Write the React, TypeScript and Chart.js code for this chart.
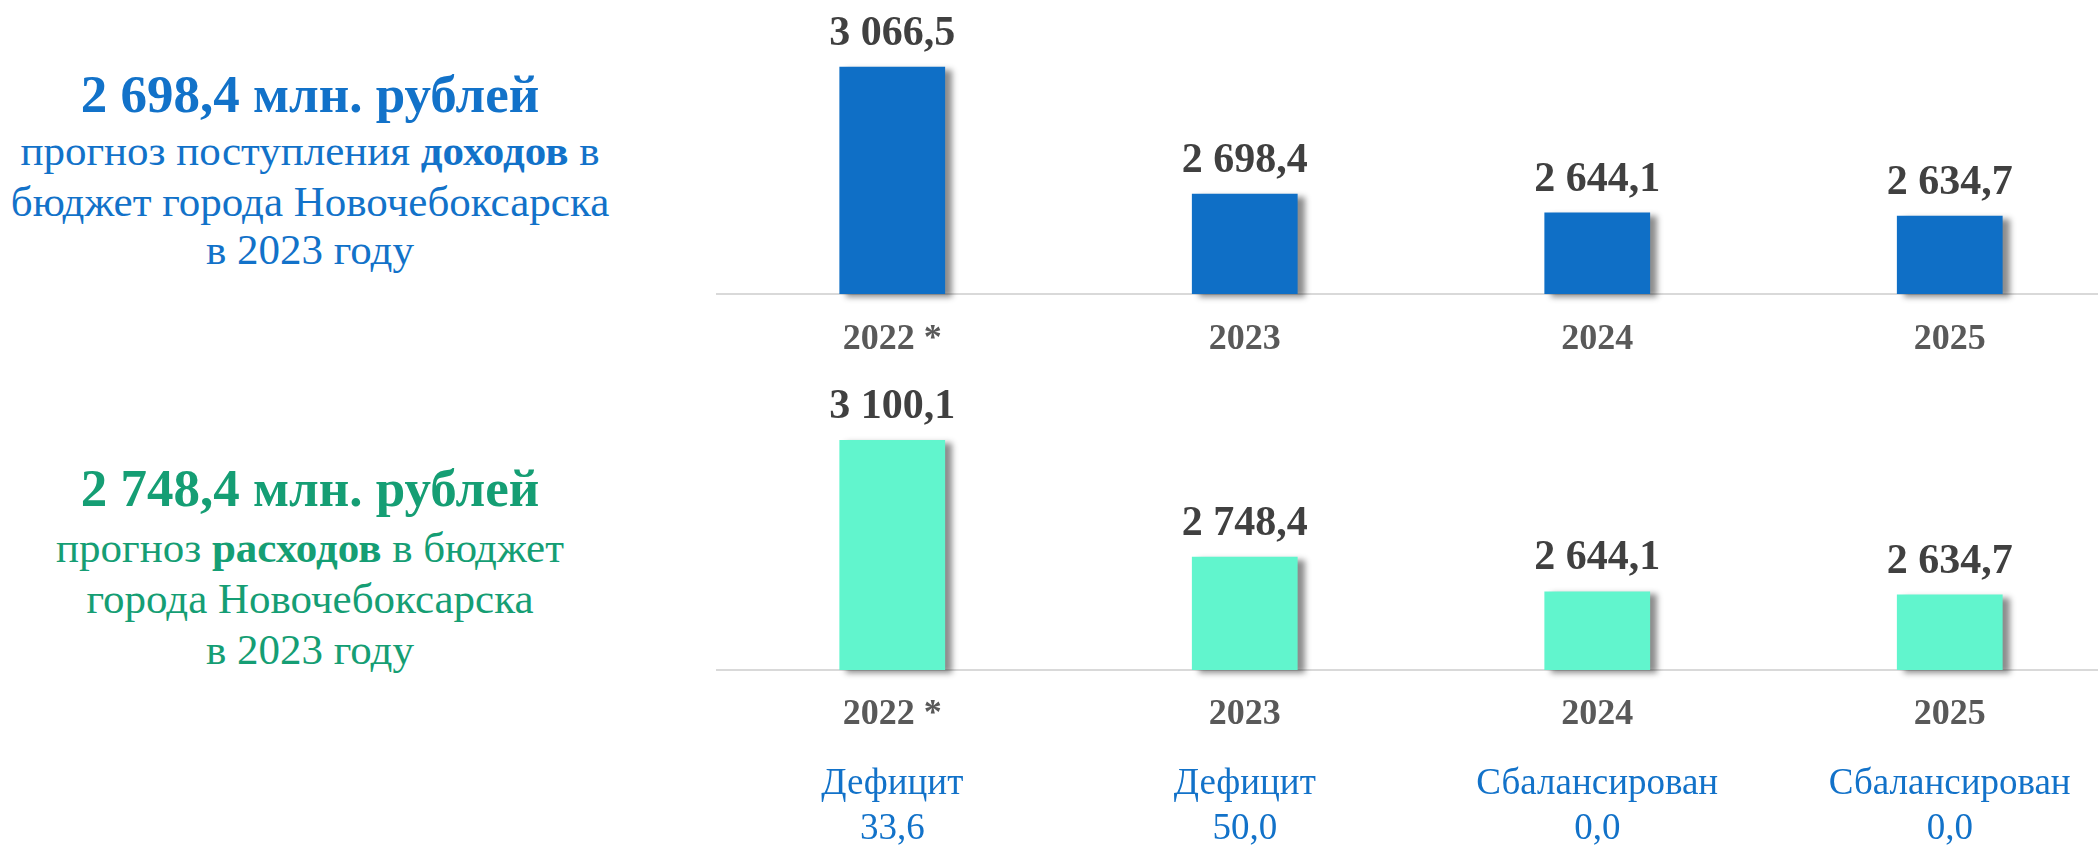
import React, { useEffect, useRef } from 'react';
import { Chart, registerables } from 'chart.js';

Chart.register(...registerables);

const categories = ['2022 *', '2023', '2024', '2025'];
const revenueValues = [3066.5, 2698.4, 2644.1, 2634.7];
const expenseValues = [3100.1, 2748.4, 2644.1, 2634.7];
const balanceStatus = ['Дефицит', 'Дефицит', 'Сбалансирован', 'Сбалансирован'];
const balanceValues = ['33,6', '50,0', '0,0', '0,0'];
const axisMin = 2408;
const axisMax = 3202;

const FONT = '"Liberation Serif", "Times New Roman", serif';
const BLUE_TEXT = '#1272C9';
const GREEN_TEXT = '#159E74';

function fmt(v: number): string {
  const [i, d] = v.toFixed(1).split('.');
  return i.replace(/\B(?=(\d{3})+(?!\d))/g, ' ') + ',' + d;
}

type BarProps = {
  values: number[];
  color: string;
  top: number;
  height: number;
  padTop: number;
  xAxisHeight: number;
  labelPad: number;
  withBalance: boolean;
};

function BarChart({ values, color, top, height, padTop, xAxisHeight, labelPad, withBalance }: BarProps) {
  const ref = useRef<HTMLCanvasElement | null>(null);
  useEffect(() => {
    if (!ref.current) return;
    const shadowPlugin = {
      id: 'barShadow',
      beforeDatasetsDraw(chart: any) {
        const c = chart.ctx;
        c.save();
        c.shadowColor = 'rgba(0,0,0,0.45)';
        c.shadowBlur = 6;
        c.shadowOffsetX = 7;
        c.shadowOffsetY = 3;
      },
      afterDatasetsDraw(chart: any) {
        chart.ctx.restore();
      },
    };
    const labelPlugin = {
      id: 'valueLabels',
      afterDatasetsDraw(chart: any) {
        const ctx = chart.ctx;
        const meta = chart.getDatasetMeta(0);
        ctx.save();
        ctx.font = `bold 42px ${FONT}`;
        ctx.fillStyle = '#404040';
        ctx.textAlign = 'center';
        ctx.textBaseline = 'alphabetic';
        meta.data.forEach((bar: any, i: number) => {
          ctx.fillText(fmt(values[i]), bar.x, bar.y - 22);
        });
        ctx.restore();
      },
    };
    const scales: any = {
      x: {
        type: 'category',
        position: 'bottom',
        weight: 0,
        offset: true,
        grid: { display: false, drawTicks: false },
        border: { display: true, color: '#D9D9D9', width: 2 },
        ticks: {
          color: '#595959',
          font: { family: FONT, size: 36, weight: 'bold', lineHeight: 1.2 },
          padding: labelPad,
          maxRotation: 0,
          autoSkip: false,
        },
        afterFit: (s: any) => {
          s.height = xAxisHeight;
        },
      },
      y: { display: false, min: axisMin, max: axisMax },
    };
    if (withBalance) {
      scales.x2 = {
        type: 'category',
        position: 'bottom',
        weight: 1,
        offset: true,
        labels: balanceStatus.map((s, i) => [s, balanceValues[i]]),
        grid: { display: false, drawTicks: false },
        border: { display: false },
        ticks: {
          color: BLUE_TEXT,
          font: { family: FONT, size: 37, lineHeight: 45 / 37 },
          padding: 32,
          maxRotation: 0,
          autoSkip: false,
        },
        afterFit: (s: any) => {
          s.height = 116;
        },
      };
    }
    const chart = new Chart(ref.current, {
      type: 'bar',
      data: {
        labels: categories,
        datasets: [
          {
            data: values,
            base: axisMin,
            backgroundColor: color,
            borderWidth: 0,
            barPercentage: 0.3,
            categoryPercentage: 1,
            clip: false as any,
          } as any,
        ],
      },
      options: {
        animation: false,
        responsive: true,
        maintainAspectRatio: false,
        layout: { padding: { top: padTop, left: 0, right: 0, bottom: 0 } },
        plugins: { legend: { display: false }, tooltip: { enabled: false } },
        scales,
      },
      plugins: [shadowPlugin, labelPlugin],
    });
    return () => chart.destroy();
  }, []);
  return (
    <div style={{ position: 'absolute', left: 716, top, width: 1410, height }}>
      <canvas ref={ref} />
    </div>
  );
}

function Line({ top, size, color, bold, children }: any) {
  return (
    <div
      style={{
        position: 'absolute',
        left: 0,
        width: 620,
        top,
        textAlign: 'center',
        fontFamily: FONT,
        fontSize: size,
        lineHeight: `${size}px`,
        fontWeight: bold ? 'bold' : 'normal',
        color,
        whiteSpace: 'nowrap',
      }}
    >
      {children}
    </div>
  );
}

export default function App() {
  return (
    <div
      style={{
        position: 'fixed',
        left: 0,
        top: 0,
        width: 2098,
        height: 846,
        overflow: 'hidden',
        background: '#ffffff',
      }}
    >
      <Line top={68} size={53} color={BLUE_TEXT} bold>
        2 698,4 млн. рублей
      </Line>
      <Line top={129} size={43} color={BLUE_TEXT}>
        прогноз поступления <b>доходов</b> в
      </Line>
      <Line top={180} size={43} color={BLUE_TEXT}>
        бюджет города Новочебоксарска
      </Line>
      <Line top={228} size={43} color={BLUE_TEXT}>
        в 2023 году
      </Line>

      <Line top={462} size={53} color={GREEN_TEXT} bold>
        2 748,4 млн. рублей
      </Line>
      <Line top={526} size={43} color={GREEN_TEXT}>
        прогноз <b>расходов</b> в бюджет
      </Line>
      <Line top={577} size={43} color={GREEN_TEXT}>
        города Новочебоксарска
      </Line>
      <Line top={628} size={43} color={GREEN_TEXT}>
        в 2023 году
      </Line>

      <BarChart
        values={revenueValues}
        color="#0F6FC6"
        top={0}
        height={380}
        padTop={20}
        xAxisHeight={86}
        labelPad={24}
        withBalance={false}
      />
      <BarChart
        values={expenseValues}
        color="#61F5CD"
        top={380}
        height={466}
        padTop={26}
        xAxisHeight={60}
        labelPad={23}
        withBalance={true}
      />
    </div>
  );
}
